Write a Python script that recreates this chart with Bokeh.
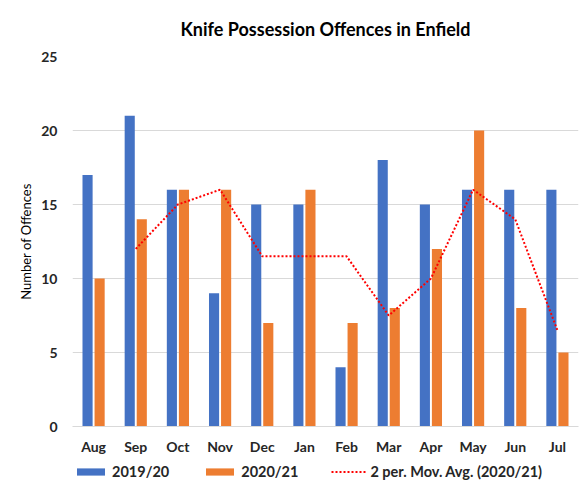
from bokeh.plotting import figure
from bokeh.layouts import column
from bokeh.models import FactorRange, Range1d, ColumnDataSource, Legend, LegendItem, SingleIntervalTicker
from bokeh.transform import dodge
from bokeh.embed import file_html
from bokeh.resources import INLINE

months = ["Aug", "Sep", "Oct", "Nov", "Dec", "Jan", "Feb", "Mar", "Apr", "May", "Jun", "Jul"]
offences_2019_20 = [17, 21, 16, 9, 15, 15, 4, 18, 15, 16, 16, 16]
offences_2020_21 = [10, 14, 16, 16, 7, 16, 7, 8, 12, 20, 8, 5]
ma_months = ["Sep", "Oct", "Nov", "Dec", "Jan", "Feb", "Mar", "Apr", "May", "Jun", "Jul"]
moving_avg_2020_21 = [12, 15, 16, 11.5, 11.5, 11.5, 7.5, 10, 16, 14, 6.5]
series_labels = ["2019/20", "2020/21", "2 per. Mov. Avg. (2020/21)"]

FONT = "Lato"
BLUE = "#4472C4"
ORANGE = "#ED7D31"
RED = "#FF0000"

src = ColumnDataSource(dict(months=months, a=offences_2019_20, b=offences_2020_21))
ma_src = ColumnDataSource(dict(months=ma_months, v=moving_avg_2020_21))

p = figure(x_range=FactorRange(*months), y_range=Range1d(0, 25),
           width=582, height=462, output_backend="svg", toolbar_location=None,
           min_border_left=72, min_border_right=4, min_border_top=56, min_border_bottom=36)
p.outline_line_color = None
p.background_fill_color = "white"

p.title.text = "Knife Possession Offences in Enfield"
p.title.align = "center"
p.title.vertical_align = "middle"
p.title.text_font = FONT
p.title.text_font_size = "18px"
p.title.text_font_style = "bold"
p.title.text_color = "#000000"
p.title.standoff = 31


def add_series(fig):
    b1 = fig.vbar(x=dodge("months", -0.143, range=fig.x_range), top="a", width=0.24, bottom=0,
                  source=src, fill_color=BLUE, line_color=None)
    b2 = fig.vbar(x=dodge("months", 0.143, range=fig.x_range), top="b", width=0.24, bottom=0,
                  source=src, fill_color=ORANGE, line_color=None)
    ln = fig.line(x="months", y="v", source=ma_src, line_color=RED, line_width=2,
                  line_dash="2 2")
    return b1, b2, ln


add_series(p)

p.xgrid.grid_line_color = None
p.ygrid.grid_line_color = "#D9D9D9"
p.ygrid.grid_line_width = 1
p.yaxis.ticker = SingleIntervalTicker(interval=5)
p.yaxis.axis_line_color = None
p.yaxis.major_tick_line_color = None
p.yaxis.minor_tick_line_color = None
p.yaxis.major_label_standoff = 9
p.yaxis.axis_label = "Number of Offences"
p.yaxis.axis_label_text_font = FONT
p.yaxis.axis_label_text_font_size = "13px"
p.yaxis.axis_label_text_font_style = "normal"
p.yaxis.axis_label_text_color = "#000000"
p.yaxis.axis_label_standoff = 4

p.xaxis.axis_line_color = "#D9D9D9"
p.xaxis.major_tick_line_color = None
p.xaxis.major_label_standoff = 5

for ax in (p.xaxis[0], p.yaxis[0]):
    ax.major_label_text_font = FONT
    ax.major_label_text_font_size = "14px"
    ax.major_label_text_font_style = "bold"
    ax.major_label_text_color = "#262626"

# legend strip below the chart (series drawn out of view, only the legend shows)
pl = figure(width=582, height=19, x_range=p.x_range, y_range=Range1d(1000, 1001),
            output_backend="svg", toolbar_location=None,
            min_border_left=72, min_border_right=4, min_border_top=0, min_border_bottom=0)
pl.axis.visible = False
pl.grid.visible = False
pl.outline_line_color = None
l1, l2, l3 = add_series(pl)

legend = Legend(items=[LegendItem(label=series_labels[0], renderers=[l1]),
                       LegendItem(label=series_labels[1], renderers=[l2]),
                       LegendItem(label=series_labels[2], renderers=[l3])],
                orientation="horizontal", location="top_left",
                glyph_width=35, glyph_height=9, label_standoff=4, spacing=33,
                padding=0, margin=1, border_line_color=None, background_fill_alpha=0,
                label_text_font=FONT, label_text_font_size="14.5px", label_text_font_style="bold",
                label_text_color="#262626")
pl.add_layout(legend)

layout = column(p, pl, spacing=0)
open("out.html", "w").write(file_html(layout, INLINE))
